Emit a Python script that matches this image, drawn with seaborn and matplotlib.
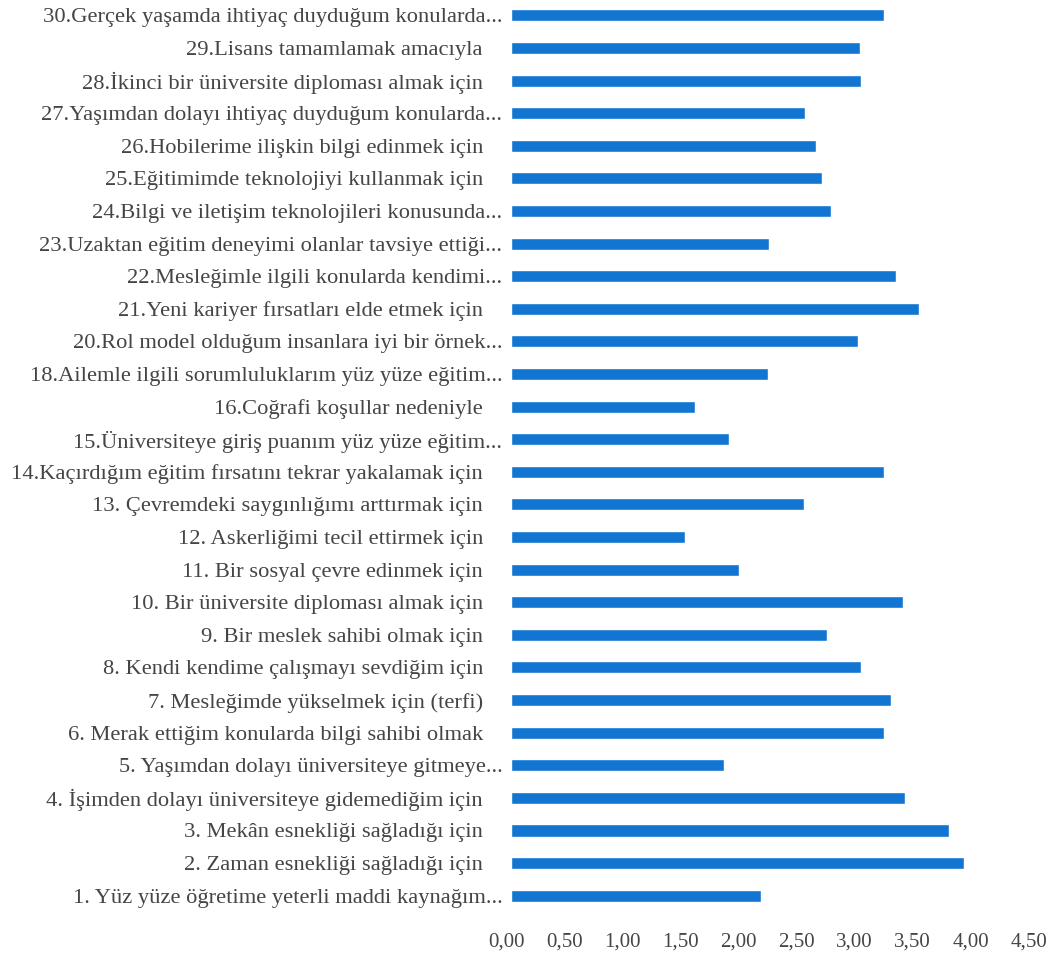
import numpy as np
import pandas as pd
import matplotlib
matplotlib.use("Agg")
import matplotlib.pyplot as plt
import matplotlib.transforms as mtransforms
import seaborn as sns

# items, listed top to bottom as in the chart
items = [
    "30.Gerçek yaşamda ihtiyaç duyduğum konularda...",
    "29.Lisans tamamlamak amacıyla",
    "28.İkinci bir üniversite diploması almak için",
    "27.Yaşımdan dolayı ihtiyaç duyduğum konularda...",
    "26.Hobilerime ilişkin bilgi edinmek için",
    "25.Eğitimimde teknolojiyi kullanmak için",
    "24.Bilgi ve iletişim teknolojileri konusunda...",
    "23.Uzaktan eğitim deneyimi olanlar tavsiye ettiği...",
    "22.Mesleğimle ilgili konularda kendimi...",
    "21.Yeni kariyer fırsatları elde etmek için",
    "20.Rol model olduğum insanlara iyi bir örnek...",
    "18.Ailemle ilgili sorumluluklarım yüz yüze eğitim...",
    "16.Coğrafi koşullar nedeniyle",
    "15.Üniversiteye giriş puanım yüz yüze eğitim...",
    "14.Kaçırdığım eğitim fırsatını tekrar yakalamak için",
    "13. Çevremdeki saygınlığımı arttırmak için",
    "12. Askerliğimi tecil ettirmek için",
    "11. Bir sosyal çevre edinmek için",
    "10. Bir üniversite diploması almak için",
    "9. Bir meslek sahibi olmak için",
    "8. Kendi kendime çalışmayı sevdiğim için",
    "7. Mesleğimde yükselmek için (terfi)",
    "6. Merak ettiğim konularda bilgi sahibi olmak",
    "5. Yaşımdan dolayı üniversiteye gitmeye...",
    "4. İşimden dolayı üniversiteye gidemediğim için",
    "3. Mekân esnekliği sağladığı için",
    "2. Zaman esnekliği sağladığı için",
    "1. Yüz yüze öğretime yeterli maddi kaynağım...",
]
means = [3.22, 3.01, 3.02, 2.54, 2.63, 2.68, 2.76, 2.23, 3.32, 3.52,
         2.99, 2.22, 1.59, 1.88, 3.22, 2.53, 1.50, 1.97, 3.38, 2.73,
         3.02, 3.28, 3.22, 1.84, 3.40, 3.78, 3.91, 2.16]
xticks = [0.0, 0.5, 1.0, 1.5, 2.0, 2.5, 3.0, 3.5, 4.0, 4.5]
xtick_labels = ["0,00", "0,50", "1,00", "1,50", "2,00", "2,50", "3,00", "3,50", "4,00", "4,50"]

df = pd.DataFrame({"item": items, "mean": means})

sns.set_theme(style="white")
plt.rcParams["font.family"] = ["Liberation Serif", "DejaVu Serif"]
text_color = "#454545"

fig = plt.figure(figsize=(10.63, 9.59), dpi=100)
ax = fig.add_axes([0.4805, 0.049, 0.491, 0.952])

sns.barplot(data=df, x="mean", y="item", orient="h", color="#1275D1",
            saturation=1, width=0.37, ax=ax)

ax.set_xlim(0, 4.5)
ax.set_xticks(xticks)
ax.set_xticklabels(xtick_labels, fontsize=15, color=text_color)
ax.set_xlabel("")
ax.set_ylabel("")
ax.tick_params(axis="y", length=0, pad=20, labelsize=16.2, labelcolor=text_color)
ax.tick_params(axis="x", length=0, pad=15)
for s in ax.spines.values():
    s.set_visible(False)

# truncated labels let their dots overflow toward the bars, like the original
shift = mtransforms.ScaledTranslation(14 / 72, 0, fig.dpi_scale_trans)
for lab in ax.get_yticklabels():
    if lab.get_text().endswith("..."):
        lab.set_transform(lab.get_transform() + shift)
xshift = mtransforms.ScaledTranslation(-3 / 72, 0, fig.dpi_scale_trans)
for lab in ax.get_xticklabels():
    lab.set_transform(lab.get_transform() + xshift)

fig.savefig("out.png", dpi=100, facecolor="white")
